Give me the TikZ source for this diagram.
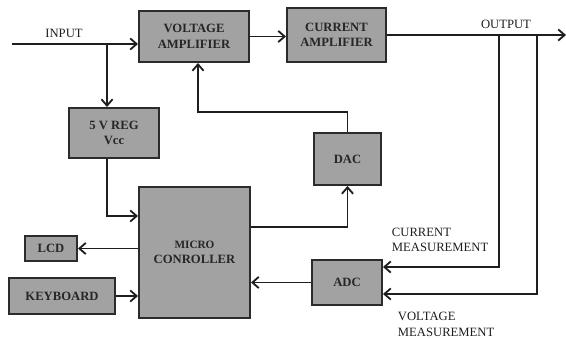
\documentclass[tikz,border=0pt]{standalone}
\usepackage{fontspec}
\setmainfont{Liberation Serif}
\usepackage{tikz}
\usetikzlibrary{arrows.meta,positioning,calc}
\definecolor{BlockGray}{HTML}{A2A2A2}
\definecolor{BlockEdge}{HTML}{2B2B2B}
\definecolor{WireInk}{HTML}{1E1E1E}
\tikzset{
  figlabel/.style={font=\fontsize{9}{11}\selectfont, text=WireInk, align=left},
  figbold/.style={font=\fontsize{9}{11}\selectfont\bfseries, text=black!85, align=center},
  figbox/.style={figbold, draw=BlockEdge, line width=1.4pt, fill=BlockGray, inner sep=0pt},
  figwire/.style={line width=1.3pt, draw=WireInk},
  figarrow/.style={figwire, -{Straight Barb[length=1.6mm,width=2.8mm]}}
}

\begin{document}
\begin{tikzpicture}[x=0.025cm, y=-0.025cm]
\useasboundingbox (0,0) rectangle (566,339);
% blocks
\node[figbox, minimum width=2.75cm, minimum height=1.275cm] (vamp) at (194,36.5) {VOLTAGE\\AMPLIFIER};
\node[figbox, minimum width=2.475cm, minimum height=1.35cm] (camp) at (336.5,35) {CURRENT\\AMPLIFIER};
\node[figbox, minimum width=2.25cm, minimum height=1.25cm] (reg) at (114,133) {5 V REG\\Vcc};
\node[figbox, minimum width=1.675cm, minimum height=1.3cm] (dac) at (347.5,159) {DAC};
\node[figbox, minimum width=2.775cm, minimum height=3.275cm] (mc) at (194.5,252.5) {{\fontsize{8}{10}\selectfont MICRO}\\CONROLLER};
\node[figbox, minimum width=1.3cm, minimum height=0.625cm] (lcd) at (51,248.5) {LCD};
\node[figbox, minimum width=2.65cm, minimum height=0.9cm] (kbd) at (62,296) {KEYBOARD};
\node[figbox, minimum width=1.75cm, minimum height=1.125cm] (adc) at (347,282.5) {ADC};
% labels
\node[figlabel] (inlbl) at (64,33) {INPUT};
\node[figlabel] (outlbl) at (506,24) {OUTPUT};
\node[figlabel, anchor=west] (ilbl) at (387,240) {CURRENT\\MEASUREMENT};
\node[figlabel, anchor=west] (vlbl) at (393,324.5) {VOLTAGE\\MEASUREMENT};
% wire ends
\coordinate (in) at (12,44);
\coordinate (tap) at (107,44);
\coordinate (fb) at (198,112);
\coordinate (out) at (566,35);
\coordinate (isense) at (499,35);
\coordinate (vsense) at (537,35);
% connectors
\draw[figarrow] (in) -- (in -| vamp.west);
\draw[figarrow] (tap) -- (tap |- reg.north);
\draw[figarrow] (tap |- reg.south) |- ($(mc.north west)+(0,30)$);
\draw[figarrow] (vamp.east) -- (vamp.east -| camp.west);
\draw[figarrow] (camp.east) -- (out);
\draw[figarrow] (isense) |- ($(adc.east)+(0,-15.5)$);
\draw[figarrow] (vsense) |- ($(adc.east)+(0,11.5)$);
\draw[figarrow] ($(mc.east)+(0,-25.5)$) -| (dac.south);
\draw[figarrow] (dac.north) |- (fb) -- (fb |- vamp.south);
\draw[figarrow] (mc.west |- lcd.east) -- (lcd.east);
\draw[figarrow] (kbd.east) -- (kbd.east -| mc.west);
\draw[figarrow] (adc.west) -- (adc.west -| mc.east);
\end{tikzpicture}
\end{document}
